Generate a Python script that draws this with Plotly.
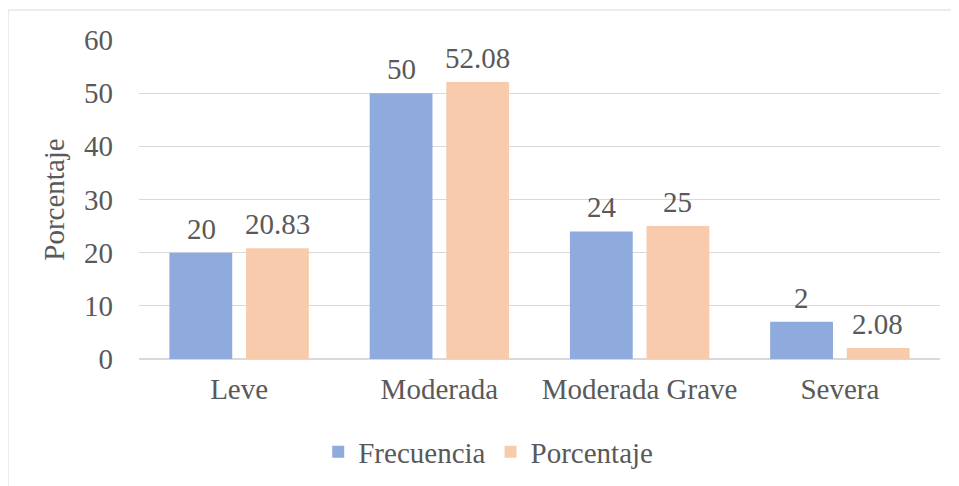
import plotly.graph_objects as go

categories = ["Leve", "Moderada", "Moderada Grave", "Severa"]
frecuencia = [20, 50, 24, 7]
frecuencia_labels = ["20", "50", "24", "2"]
porcentaje = [20.83, 52.08, 25, 2.08]
porcentaje_labels = ["20.83", "52.08", "25", "2.08"]
yticks = [0, 10, 20, 30, 40, 50, 60]

FONT = "Times New Roman, Liberation Serif, serif"
TXT = "#595959"
C1 = "#8faadc"
C2 = "#f8cbad"
FS = 29

fig = go.Figure()
fig.add_trace(go.Bar(x=categories, y=frecuencia, name="Frecuencia", marker=dict(color=C1, line=dict(width=0))))
fig.add_trace(go.Bar(x=categories, y=porcentaje, name="Porcentaje", marker=dict(color=C2, line=dict(width=0))))

ann = []
for c, v, t in zip(categories, frecuencia, frecuencia_labels):
    ann.append(dict(x=c, y=v, text=t, xref="x", yref="y", showarrow=False, xshift=-38, yshift=6,
                    yanchor="bottom", font=dict(family=FONT, size=FS, color=TXT)))
for c, v, t in zip(categories, porcentaje, porcentaje_labels):
    ann.append(dict(x=c, y=v, text=t, xref="x", yref="y", showarrow=False, xshift=38, yshift=6,
                    yanchor="bottom", font=dict(family=FONT, size=FS, color=TXT)))

fig.update_layout(
    width=959, height=486,
    margin=dict(l=131, r=27, t=32, b=135),
    paper_bgcolor="white", plot_bgcolor="white",
    barmode="group", bargap=0.235, bargroupgap=0.18,
    font=dict(family=FONT, size=FS, color=TXT),
    annotations=ann,
    legend=dict(orientation="h", x=0.436, xanchor="center", y=-0.2915, yanchor="middle",
                font=dict(family=FONT, size=FS, color=TXT)),
    xaxis=dict(showline=False, ticks="", ticklabelstandoff=10,
               tickfont=dict(family=FONT, size=FS, color=TXT)),
    yaxis=dict(range=[0, 60], tickvals=yticks, showgrid=True, gridcolor="#d9d9d9", gridwidth=1,
               zeroline=True, zerolinecolor="#d9d9d9", zerolinewidth=1.5,
               tickfont=dict(family=FONT, size=FS, color=TXT), ticklabelstandoff=25,
               title=dict(text="Porcentaje", font=dict(family=FONT, size=FS, color=TXT), standoff=10)),
    shapes=[
        dict(type="line", xref="paper", yref="paper", x0=-0.1635, x1=1.1, y0=1.094, y1=1.094,
             line=dict(color="#d9d9d9", width=1)),
        dict(type="line", xref="paper", yref="paper", x0=-0.1635, x1=-0.1635, y0=1.094, y1=-0.5,
             line=dict(color="#d9d9d9", width=1)),
    ],
)

fig.write_html("out.html")
